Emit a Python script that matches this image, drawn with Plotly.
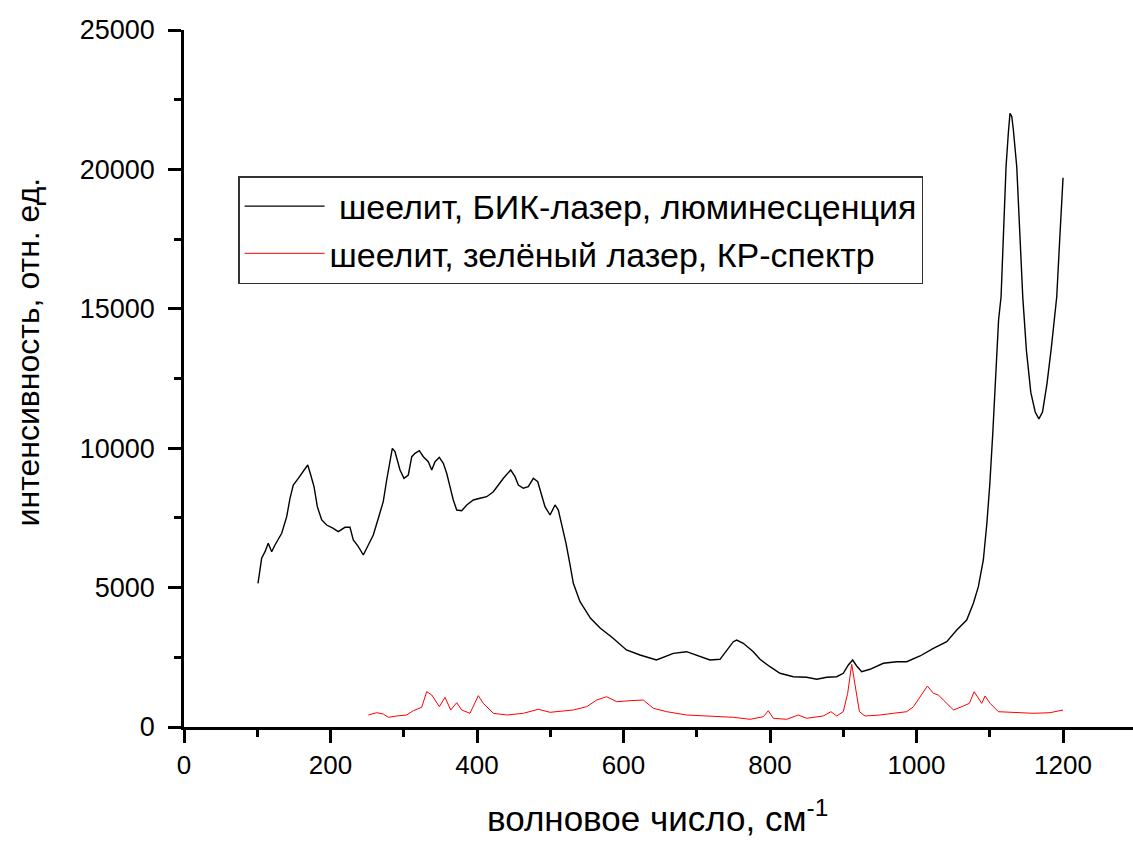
import plotly.graph_objects as go

# Black curve: шеелит, БИК-лазер, люминесценция
nir_x = [101, 106, 110.6, 115, 119.7, 124.2, 133.4, 140.2, 144.7, 149.2, 156, 162.9, 168.9, 173,
         177.5, 182, 188, 194.8, 203.8, 210.6, 219.8, 226.6, 231.1, 238, 244.8, 251.6, 258.4,
         265.3, 272, 276.7, 281.2, 284.4, 288, 294.9, 300.3, 306.2, 310.9, 315.4, 321.2, 326.7,
         333.5, 338.2, 342.7, 348.5, 354, 358.6, 363.1, 367.6, 372.3, 379.1, 386, 395, 404.1,
         413.2, 422.3, 429.1, 436, 446, 451.9, 456.4, 463.2, 470, 476.9, 482.9, 488.3, 492.8,
         499.7, 506.5, 511, 515.6, 521.5, 527, 531.5, 540.6, 555, 568, 585, 604, 622.5, 645,
         668, 686, 704.4, 718, 731.7, 740.9, 749.9, 754.5, 763.5, 777.2, 786.3, 800, 813.6,
         831.8, 850, 863.8, 877.4, 891, 900, 906.9, 912.8, 918.3, 925.1, 936.5, 954.7, 973,
         986.6, 1004.8, 1023, 1041.2, 1054.9, 1068.5, 1077.6, 1084.4, 1089, 1091.2, 1096, 1100,
         1104, 1108, 1112, 1115.4, 1118.5, 1122.2, 1125.3, 1127.6, 1130, 1132.2, 1136.8, 1141.3,
         1145, 1150, 1156, 1162, 1167, 1172, 1178, 1184, 1191.4, 1195.9, 1200]
nir_y = [5154, 6051, 6288, 6589, 6288, 6528, 6948, 7543, 8203, 8680, 8920, 9157, 9397, 9039,
         8619, 7902, 7425, 7245, 7127, 7005, 7163, 7163, 6707, 6467, 6169, 6528, 6887,
         7486, 8081, 8859, 9577, 9996, 9875, 9218, 8920, 9039, 9695, 9817, 9910, 9695,
         9516, 9218, 9516, 9674, 9458, 9100, 8619, 8142, 7783, 7758, 7963, 8142, 8203,
         8260, 8440, 8680, 8920, 9218, 8978, 8680, 8562, 8619, 8920, 8798, 8260, 7902,
         7604, 7963, 7783, 7306, 6589, 5811, 5154, 4494, 3900, 3550, 3200, 2762, 2583, 2403,
         2643, 2701, 2523, 2403, 2428, 2762, 3060, 3120, 3002, 2701, 2428, 2163, 1926,
         1804, 1783, 1711, 1783, 1804, 1926, 2224, 2403, 2188, 1984, 2070, 2285, 2342,
         2342, 2547, 2823, 3060, 3479, 3838, 4437, 5033, 5631, 5990, 7300, 8700,
         10500, 12600, 14600, 15434, 17708, 20097, 21295, 22010, 21900, 21413, 20097, 17708,
         15434, 13500, 12000, 11300, 11050, 11300, 12300, 13600, 15434, 17708, 19700]

# Red curve: шеелит, зелёный лазер, КР-спектр
raman_x = [251.6, 263, 272, 278.9, 290.4, 304, 313, 324.5, 331.3, 338.2, 348.6, 356.3, 364.1,
           372.3, 379.1, 390.4, 401.8, 408.6, 422.3, 440.6, 463.2, 483.7, 499.7, 531.5, 549.8,
           563.4, 577, 590.7, 608.9, 627, 640.7, 659, 686.3, 713.6, 731.7, 749.9, 772.7, 790.9,
           797.7, 804.5, 822.8, 838.6, 850, 872.7, 883.2, 891, 900, 906, 911.5, 916.1, 922,
           929.7, 950.2, 968.3, 986.6, 995.8, 1004.8, 1014.8, 1023, 1029.8, 1036.6, 1050.4,
           1064, 1072.2, 1078.6, 1089, 1093.5, 1100.4, 1111.7, 1136.8, 1159.4, 1182.3, 1200]
raman_y = [430, 513, 466, 348, 395, 430, 585, 707, 1266, 1148, 728, 1065, 610,
           872, 610, 491, 1123, 850, 491, 430, 491, 635, 527, 610, 728,
           968, 1087, 907, 943, 968, 671, 549, 430, 395, 348, 348, 276, 370,
           585, 312, 276, 430, 312, 395, 549, 395, 549, 1209, 2250, 1446, 549,
           395, 430, 491, 549, 728, 1087, 1471, 1209, 1148, 968, 610,
           753, 850, 1266, 850, 1112, 850, 549, 513, 491, 513, 610]

x_ticks = [0, 200, 400, 600, 800, 1000, 1200]
y_ticks = [0, 5000, 10000, 15000, 20000, 25000]

FONT = "Liberation Sans, Arial, sans-serif"

fig = go.Figure()
fig.add_trace(go.Scatter(x=nir_x, y=nir_y, mode="lines",
                         name="\u00a0шеелит, БИК-лазер, люминесценция",
                         line=dict(color="black", width=1.4)))
fig.add_trace(go.Scatter(x=raman_x, y=raman_y, mode="lines",
                         name="шеелит, зелёный лазер, КР-спектр",
                         line=dict(color="red", width=1)))

axis_common = dict(showline=True, linecolor="black", linewidth=2.5, ticks="outside",
                   tickcolor="black", tickwidth=2.5, ticklen=13, showgrid=False,
                   zeroline=False, mirror=False, automargin=False)

fig.update_xaxes(range=[0, 1295.5], tickvals=x_ticks, ticktext=[str(v) for v in x_ticks],
                 tickfont=dict(family=FONT, size=26, color="black"),
                 minor=dict(dtick=100, tick0=0, ticks="outside", ticklen=7, tickwidth=2.5,
                            tickcolor="black", showgrid=False),
                 **axis_common)
fig.update_yaxes(range=[0, 25000], tickvals=y_ticks, ticktext=[str(v) for v in y_ticks],
                 tickfont=dict(family=FONT, size=27, color="black"), ticklabelstandoff=8,
                 minor=dict(dtick=2500, tick0=0, ticks="outside", ticklen=7, tickwidth=2.5,
                            tickcolor="black", showgrid=False),
                 **axis_common)

fig.add_annotation(text="волновое число, см<sup>-1</sup>", xref="paper", yref="paper",
                   x=0.499, y=-0.128, xanchor="center", yanchor="middle", showarrow=False,
                   font=dict(family=FONT, size=35, color="black"))
fig.add_annotation(text="интенсивность, отн. ед.", xref="paper", yref="paper",
                   x=-0.164, y=0.538, xanchor="center", yanchor="middle",
                   textangle=-90, showarrow=False,
                   font=dict(family=FONT, size=32, color="black"))

fig.update_layout(
    width=1133, height=841,
    margin=dict(l=184, r=0, t=30, b=114),
    paper_bgcolor="white", plot_bgcolor="white",
    showlegend=True,
    legend=dict(x=0.057, y=0.7905, xanchor="left", yanchor="top",
                bordercolor="#333333", borderwidth=1.5, bgcolor="white",
                font=dict(family=FONT, size=34, color="black"),
                itemwidth=80, tracegroupgap=0),
)

fig.write_html("out.html", config={"displayModeBar": False},
               post_script="document.body.style.margin='0';document.body.style.overflow='hidden';")
